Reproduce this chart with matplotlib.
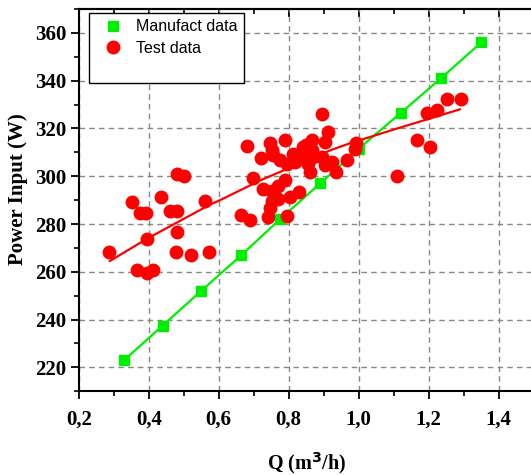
import numpy as np
import matplotlib
matplotlib.use("Agg")
import matplotlib.pyplot as plt
from matplotlib.lines import Line2D
from matplotlib.ticker import MultipleLocator, FuncFormatter, NullFormatter

# Manufacturer data (Q in m3/h, power in W)
q_manuf = [0.33, 0.44, 0.55, 0.665, 0.775, 0.89, 1.0, 1.12, 1.235, 1.35]
p_manuf = [223, 237.5, 252, 267, 282, 297, 311.5, 326.5, 341, 356]

# Test data
q_test = [0.287, 0.366, 0.396, 0.413, 0.396, 0.353, 0.375, 0.391, 0.434, 0.462,
          0.482, 0.482, 0.478, 0.521, 0.572, 0.561, 0.481, 0.501,
          0.664, 0.689, 0.74, 0.794, 0.726, 0.751, 0.77, 0.805, 0.828, 0.747,
          0.751, 0.77, 0.789, 0.699,
          0.68, 0.747, 0.789, 0.751, 0.756, 0.721, 0.775, 0.794, 0.813, 0.818,
          0.832, 0.842, 0.85, 0.866, 0.866, 0.87, 0.894, 0.856, 0.861, 0.904,
          0.925, 0.935, 0.966, 0.896, 0.913, 0.904, 0.992, 0.99,
          1.108, 1.166, 1.204, 1.196, 1.223, 1.252, 1.291]
p_test = [268.4, 260.8, 259.4, 260.8, 273.9, 289.3, 284.7, 284.7, 291.3, 285.4,
          285.4, 276.8, 268.4, 267, 268.4, 289.5, 300.8, 300.1,
          283.7, 281.6, 283, 283.4, 294.7, 289.7, 290.5, 291.2, 293.5, 286.9,
          293.9, 296, 298.4, 299.1,
          312.6, 313.8, 315.3, 310.8, 308.7, 307.5, 306.6, 305.2, 309.4, 305.8,
          308.7, 312.1, 313, 315, 310.8, 308, 308, 305.2, 301.6, 304.5,
          305.8, 301.6, 306.6, 326.2, 318.4, 314.2, 313.8, 311.5,
          300.2, 315, 312.1, 326.4, 327.6, 332.2, 332.2]

# Fitted curve of test data
q_fit = [0.289, 0.396, 0.575, 0.604, 0.718, 0.918, 0.975, 1.108, 1.289]
p_fit = [264.5, 273.9, 288.1, 290.0, 298.2, 310.8, 313.8, 319.9, 328.0]

plt.rcParams['font.family'] = 'Liberation Serif'
plt.rcParams['font.weight'] = 'bold'

fig = plt.figure(figsize=(5.31, 4.75), dpi=100)
ax = fig.add_axes([0.1482, 0.1764, 0.8569, 0.8046])

ax.grid(True, color="#888888", linestyle=(0, (4, 3)), linewidth=1.0)
ax.set_axisbelow(True)

ax.plot(q_manuf, p_manuf, color="#00ee00", linewidth=1.6, marker="s",
        markersize=7, zorder=3)
ax.plot(q_test, p_test, linestyle="none", marker="o", color="#ff0000",
        markersize=9, zorder=4)
ax.plot(q_fit, p_fit, color="#ff0000", linewidth=1.6, zorder=5)

ax.set_xlim(0.2, 1.5)
ax.set_ylim(210, 370)
ax.xaxis.set_major_locator(MultipleLocator(0.2))
ax.xaxis.set_minor_locator(MultipleLocator(0.1))
ax.yaxis.set_major_locator(MultipleLocator(20))
ax.yaxis.set_minor_locator(MultipleLocator(10))
ax.xaxis.set_major_formatter(FuncFormatter(lambda v, p: f"{v:.1f}".replace(".", ",")))

ax.tick_params(which="major", direction="out", length=6, width=1.3,
               labelsize=15, top=False, right=False)
ax.tick_params(which="minor", direction="out", length=3.5, width=1.2,
               top=False, right=False)
ax.tick_params(axis="x", which="major", pad=7)
ax.tick_params(axis="y", which="major", pad=3)

# top axis ticks pointing inward
top = ax.secondary_xaxis("top")
top.xaxis.set_major_locator(MultipleLocator(0.2))
top.xaxis.set_minor_locator(MultipleLocator(0.1))
top.xaxis.set_major_formatter(NullFormatter())
top.tick_params(which="major", direction="in", length=6, width=1.3)
top.tick_params(which="minor", direction="in", length=3.5, width=1.2)
top.spines["top"].set_linewidth(1.5)

for s in ax.spines.values():
    s.set_linewidth(1.5)
ax.spines["right"].set_visible(False)

ax.set_xlabel("Q (m$^\\mathbf{3}$/h)", fontsize=14.5, fontweight="bold", va="center")
ax.xaxis.set_label_coords(0.5, -0.1886)
ax.set_ylabel("Power Input (W)", fontsize=15, fontweight="bold", va="center")
ax.yaxis.set_label_coords(-0.1334, 0.528)

handles = [
    Line2D([], [], color="#00ee00", marker="s", linestyle="none", markersize=7),
    Line2D([], [], color="#ff0000", marker="o", linestyle="none", markersize=9),
    Line2D([], [], linestyle="none"),
]
leg = ax.legend(handles, ["Manufact data", "Test data", ""], loc="upper left",
                bbox_to_anchor=(0.0226, 0.99), borderaxespad=0,
                fancybox=False, edgecolor="black", framealpha=1,
                prop={"family": "Liberation Sans", "size": 11.5, "weight": "normal"},
                handlelength=2.2, handletextpad=0.35, borderpad=0.4,
                labelspacing=0.4)
leg.get_frame().set_linewidth(1.0)

fig.savefig("out.png", dpi=100)
